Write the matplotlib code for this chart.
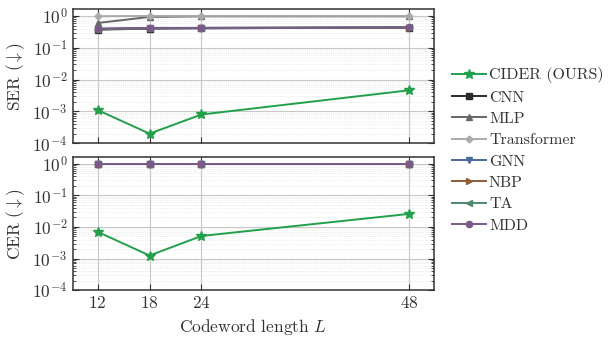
import matplotlib
matplotlib.use("Agg")
import matplotlib.pyplot as plt
from matplotlib.ticker import LogLocator, NullFormatter

plt.rcParams["font.family"] = "serif"
plt.rcParams["font.serif"] = ["cmr10"]
plt.rcParams["mathtext.fontset"] = "cm"
plt.rcParams["axes.formatter.use_mathtext"] = True
plt.rcParams["axes.unicode_minus"] = True
plt.rcParams["text.color"] = "#333333"
plt.rcParams["axes.labelcolor"] = "#333333"
plt.rcParams["xtick.color"] = "#333333"
plt.rcParams["ytick.color"] = "#333333"

# codeword lengths
lengths = [12, 18, 24, 48]

methods = ["CIDER (OURS)", "CNN", "MLP", "Transformer", "GNN", "NBP", "TA", "MDD"]
colors = ["#22a04a", "#2b2b2b", "#666666", "#aaaaaa", "#4a6a9a", "#8b5e3c", "#4e8a6e", "#7b5a8a"]
markers = ["*", "s", "^", "D", "v", ">", "<", "o"]

# symbol error rate
ser_cider = [1.1e-3, 2.0e-4, 8.0e-4, 4.6e-3]
ser_cnn = [0.37, 0.40, 0.41, 0.43]
ser_mlp = [0.60, 0.93, 0.97, 0.97]
ser_transformer = [0.98, 1.0, 1.0, 1.0]
ser_gnn = [0.38, 0.41, 0.41, 0.43]
ser_nbp = [0.39, 0.41, 0.42, 0.43]
ser_ta = [0.39, 0.41, 0.42, 0.44]
ser_mdd = [0.40, 0.42, 0.42, 0.44]

# codeword error rate
cer_cider = [7.0e-3, 1.25e-3, 5.2e-3, 2.6e-2]
cer_cnn = [1.0, 1.0, 1.0, 1.0]
cer_mlp = [1.0, 1.0, 1.0, 1.0]
cer_transformer = [1.0, 1.0, 1.0, 1.0]
cer_gnn = [1.0, 1.0, 1.0, 1.0]
cer_nbp = [1.0, 1.0, 1.0, 1.0]
cer_ta = [1.0, 1.0, 1.0, 1.0]
cer_mdd = [1.0, 1.0, 1.0, 1.0]

ser_all = [ser_cider, ser_cnn, ser_mlp, ser_transformer, ser_gnn, ser_nbp, ser_ta, ser_mdd]
cer_all = [cer_cider, cer_cnn, cer_mlp, cer_transformer, cer_gnn, cer_nbp, cer_ta, cer_mdd]

fig = plt.figure(figsize=(6.15, 3.37), dpi=100)
ax1 = fig.add_axes([0.118, 0.575, 0.588, 0.397])
ax2 = fig.add_axes([0.118, 0.139, 0.588, 0.394], sharex=ax1)


def draw(ax, series, ylabel):
    # draw baselines first, ours on top
    order = list(range(1, len(methods))) + [0]
    for i in order:
        ms = 7.5 if markers[i] == "*" else (3.5 if markers[i] == "D" else 4.5)
        ax.plot(lengths, series[i], color=colors[i], marker=markers[i], ms=ms,
                lw=1.4, label=methods[i], zorder=3 + (i == 0))
    ax.set_yscale("log")
    ax.set_ylim(1e-4, 1.6)
    ax.set_xlim(9.1, 50.9)
    ax.set_xticks(lengths)
    ax.yaxis.set_major_locator(LogLocator(base=10, numticks=10))
    ax.yaxis.set_minor_locator(LogLocator(base=10, subs=range(2, 10), numticks=20))
    ax.yaxis.set_minor_formatter(NullFormatter())
    ax.grid(True, which="major", color="#c8c8c8", lw=0.8)
    ax.grid(True, which="minor", color="#dcdcdc", lw=0.5, ls=":")
    ax.tick_params(which="both", direction="in", right=True, top=True, labelsize=12.5)
    ax.tick_params(which="major", length=4)
    ax.tick_params(which="minor", length=2)
    for s in ax.spines.values():
        s.set_linewidth(1.1)
        s.set_color("#333333")
    ax.set_ylabel(ylabel, fontsize=12.5)


draw(ax1, ser_all, r"SER $(\downarrow)$")
draw(ax2, cer_all, r"CER $(\downarrow)$")
ax1.tick_params(labelbottom=False)
ax2.set_xlabel(r"Codeword length $L$", fontsize=12.5)
for ax in (ax1, ax2):
    ax.yaxis.set_label_coords(-0.125, 0.5)

handles, labels = ax1.get_legend_handles_labels()
by_label = dict(zip(labels, handles))
fig.legend([by_label[m] for m in methods], methods, loc="center left",
           bbox_to_anchor=(0.725, 0.555), frameon=False, fontsize=11.5,
           handlelength=2.1, handletextpad=0.2, labelspacing=0.45, borderaxespad=0)

fig.savefig("out.png", dpi=100)
